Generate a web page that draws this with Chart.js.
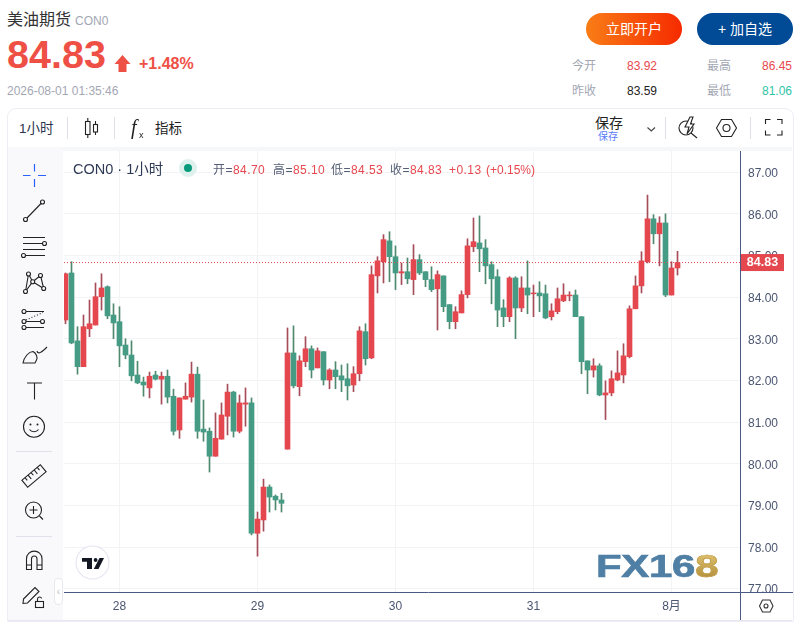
<!DOCTYPE html>
<html lang="zh">
<head>
<meta charset="utf-8">
<title>美油期货 CON0</title>
<script src="https://cdn.jsdelivr.net/npm/chart.js@4.4.3/dist/chart.umd.min.js"></script>
<style>
  html, body { margin: 0; padding: 0; width: 800px; height: 622px; overflow: hidden; background: #fff; }
  body { position: relative; font-family: "Liberation Sans", "Noto Sans CJK SC", sans-serif; color: #333; }
  .t { position: absolute; white-space: nowrap; line-height: 1; }
  .red { color: #e8484f; }
  .gray { color: #a3a7b3; }
  .legendItem { font-size: 12px; letter-spacing: .45px; color: #555e75; top: 164px; }
  .btn { position: absolute; top: 13px; width: 96px; height: 32px; border-radius: 16px; color: #fff; font-size: 14px; line-height: 32px; text-align: center; }
  #card { position: absolute; left: 7px; top: 108px; width: 785px; height: 512px; border: 1px solid #eceef3; border-radius: 9px 9px 0 0; box-sizing: content-box; }
  #gap { position: absolute; left: 8px; top: 147px; width: 784px; height: 4px; background: #f6f7f9; }
  #side { position: absolute; left: 8px; top: 147px; width: 55px; height: 473px; background: #f9f9fb; border-top-right-radius: 6px; }
  #chartBox { position: absolute; left: 64px; top: 151px; }
  svg { position: absolute; left: 0; top: 0; }
  #tab { position: absolute; left: 54px; top: 578px; width: 7px; height: 25px; background: #fff; border: 1px solid #e6e8ee; border-radius: 4px; color: #b6bac6; font-size: 10px; line-height: 25px; text-align: center; }
  #wm { position: absolute; left: 596px; top: 548px; font-weight: bold; font-size: 32px; line-height: 36px; letter-spacing: -.2px; color: #4f7fa4; -webkit-text-stroke: .7px #4f7fa4; transform: scaleX(1.31); transform-origin: left top; white-space: nowrap; }
  #wm b { background: linear-gradient(180deg, #e7cb7c, #a9852f); -webkit-background-clip: text; background-clip: text; color: transparent; -webkit-text-stroke: .7px #c4a04c; }
</style>
</head>
<body>
<div id="card"></div>
<div id="gap"></div>
<div id="side"></div>

<div class="t" style="left:7px;top:12px;font-size:16px;">美油期货</div>
<div class="t gray" style="left:75px;top:15px;font-size:12px;">CON0</div>
<div class="t" style="left:7px;top:35px;font-size:39.5px;font-weight:bold;color:#ef5046;">84.83</div>
<div class="t" style="left:139px;top:56px;font-size:16px;font-weight:bold;color:#ef5046;">+1.48%</div>
<div class="t gray" style="left:7px;top:85px;font-size:12px;">2026-08-01 01:35:46</div>

<div class="btn" style="left:586px;background:linear-gradient(90deg,#f97d16,#f62a00);">立即开户</div>
<div class="btn" style="left:697px;background:#004a96;">+ 加自选</div>

<div class="t gray" style="left:572px;top:60px;font-size:12px;">今开</div>
<div class="t red" style="left:627px;top:60px;font-size:12px;">83.92</div>
<div class="t gray" style="left:707px;top:60px;font-size:12px;">最高</div>
<div class="t red" style="left:762px;top:60px;font-size:12px;">86.45</div>
<div class="t gray" style="left:572px;top:85px;font-size:12px;">昨收</div>
<div class="t" style="left:627px;top:85px;font-size:12px;color:#222;">83.59</div>
<div class="t gray" style="left:707px;top:85px;font-size:12px;">最低</div>
<div class="t" style="left:762px;top:85px;font-size:12px;color:#2fc4a8;">81.06</div>

<div class="t" style="left:19px;top:122px;font-size:13.5px;color:#2a3350;">1小时</div>
<div class="t" style="left:155px;top:122px;font-size:13.5px;color:#222;">指标</div>
<div class="t" style="left:595px;top:116px;font-size:14px;color:#222;">保存</div>
<div class="t" style="left:598px;top:132px;font-size:10px;color:#5c7cfa;">保存</div>

<div id="chartBox"><canvas id="klineChart" width="729" height="469" style="display:block;width:729px;height:469px;"></canvas></div>

<div class="t" style="left:73px;top:162px;font-size:14.5px;color:#2f3a55;">CON0 · 1小时</div>
<div class="t legendItem" style="left:213px;">开=<span class="red">84.70</span></div>
<div class="t legendItem" style="left:273px;">高=<span class="red">85.10</span></div>
<div class="t legendItem" style="left:331px;">低=<span class="red">84.53</span></div>
<div class="t legendItem" style="left:390px;">收=<span class="red">84.83</span></div>
<div class="t legendItem" style="left:449px;color:#e8484f;">+0.13</div>
<div class="t legendItem" style="left:486px;color:#e8484f;letter-spacing:0;">(+0.15%)</div>

<div id="wm">FX16<b>8</b></div>

<svg width="800" height="622" viewBox="0 0 800 622" fill="none" stroke="#222" stroke-width="1.1">
  <!-- header arrow -->
  <path d="M122.5 55 L130.5 64 L126.5 64 L126.5 72 L118.5 72 L118.5 64 L114.5 64 Z" fill="#ef5046" stroke="none"/>
  <!-- market status dot -->
  <circle cx="188" cy="168" r="9" fill="#dff1ec" stroke="none"/><circle cx="188" cy="168" r="4" fill="#0b9a7c" stroke="none"/>
  <!-- toolbar -->
  <g stroke="#dfe1e8"><path d="M67.5 117V139M114.5 117V139M665.5 117V139M750.5 117V139"/></g>
  <rect x="85.5" y="121.5" width="4.5" height="13"/><path d="M87.8 118V121.5M87.8 134.5V138"/>
  <rect x="93.5" y="124.5" width="4" height="7.5"/><path d="M95.5 121V124.5M95.5 132V135"/>
  <text x="131" y="134" font-family="Liberation Serif" font-style="italic" font-size="20" fill="#222" stroke="none">f</text>
  <text x="139" y="138" font-family="Liberation Sans" font-size="9" fill="#222" stroke="none">x</text>
  <path d="M647.5 127.5L651.3 131L655 127.5" stroke="#444"/>
  <circle cx="686" cy="128" r="7"/><path d="M691 133L697 138"/><path d="M690 117L685 127H689L687 134L694 124H690.5L693 117Z" fill="#fff"/>
  <path d="M716.5 128L721.5 119.5H731.5L736.5 128L731.5 136.5H721.5Z"/><circle cx="726.5" cy="128" r="3.5"/>
  <path d="M765.5 124V119.5H770.5M777 119.5H782V124M782 130.5V135H777M770.5 135H765.5V130.5"/>

  <!-- sidebar -->
  <g stroke="#2962ff" stroke-width="1.2"><path d="M23 175.5H30.5M38 175.5H46M34.5 164V171.5M34.5 179V187"/></g>
  <circle cx="25.5" cy="219.5" r="2"/><circle cx="42.5" cy="202" r="2"/><path d="M27 218L41 203.5"/>
  <path d="M23 237.5H45M23 243.5H42.5M23 249.5H45M25.5 255.5H45"/><circle cx="44.5" cy="243.5" r="2"/><circle cx="23.5" cy="255.5" r="2"/>
  <path d="M28.5 274L25.5 291.5M28.5 274L32.7 281.7M32.7 281.7L40.5 275.5M40.5 275.5L43.7 288.5M32.7 281.7L43.7 288.5M32.7 281.7L25.5 291.5"/>
  <g fill="#f9f9fb"><circle cx="28.5" cy="274" r="2"/><circle cx="40.5" cy="275.5" r="2"/><circle cx="32.7" cy="281.7" r="2"/><circle cx="43.7" cy="288.5" r="2"/><circle cx="25.5" cy="291.5" r="2"/></g>
  <circle cx="24" cy="311.5" r="2"/><circle cx="24" cy="321.5" r="2"/><circle cx="42.5" cy="321.5" r="2"/><circle cx="24" cy="327.5" r="2"/>
  <path d="M26 311.5H44M26 321.5H40.5M26 327.5H44"/><path d="M26 320L43 312.5" stroke-dasharray="1 2"/>
  <path d="M23 363C24 357 29 351.5 33 351.5C36 353 38 357 36.5 360L35 363Z"/><path d="M37 351C38 355 42 352 47 347"/>
  <path d="M27 383H42M34.5 383V399.5"/>
  <circle cx="34" cy="426.7" r="10.5"/><circle cx="30.5" cy="424.5" r="1" fill="#222" stroke="none"/><circle cx="37.5" cy="424.5" r="1" fill="#222" stroke="none"/><path d="M29.5 429.5C31.5 432.5 36.5 432.5 38.5 429.5"/>
  <path d="M16 451.5H52M16 536.5H52" stroke="#e0e1ec"/>
  <g transform="rotate(-40 34 476)"><rect x="22" y="471.5" width="24" height="9"/><path d="M26 471.5V475M30 471.5V476.5M34 471.5V475M38 471.5V476.5M42 471.5V475"/></g>
  <circle cx="33.5" cy="510" r="8"/><path d="M29.5 510H37.5M33.5 506V514M39.5 516L43 519.5"/>
  <path d="M26.5 569.5V559C26.5 548.5 42 548.5 42 559V569.5H37V559C37 555 31.5 555 31.5 559V569.5ZM26.5 565H31.5M37 565H42"/>
  <path d="M23.5 599L35 587.5L39 591.5L27.5 603L23 603.5Z"/><rect x="35.5" y="601.5" width="8" height="6"/><path d="M37.5 601.5V599C37.5 596.5 41.5 596.5 41.5 598.5"/>

  <!-- tv logo -->
  <circle cx="92.5" cy="562.5" r="16.5" fill="#fff" stroke="#e4e5f0"/>
  <path d="M82 558H92V569H87V561.7H82Z" fill="#131722" stroke="none"/><circle cx="95.6" cy="560" r="1.9" fill="#131722" stroke="none"/><path d="M99.5 558H104L98.5 569H93.8Z" fill="#131722" stroke="none"/>

  <!-- bottom right settings -->
  <path d="M759.5 606L762.5 600H770L773 606L770 612H762.5Z" stroke="#333"/><circle cx="766" cy="606" r="2" stroke="#333"/>
  <path d="M8 620.5H792" stroke="#e8e6f2"/>
</svg>
<div id="tab">‹</div>

<script>
// hourly bars, red = close above open
const openPrices = [83.45,84.58,82.95,82.33,83.24,83.33,84.01,84.25,83.57,83.41,82.85,82.61,82.13,81.96,81.82,82.13,82.03,82.10,81.62,80.81,81.55,81.60,82.15,80.83,80.78,80.18,80.59,81.14,81.72,80.78,81.43,81.46,78.33,78.65,79.44,79.22,79.13,80.35,82.66,81.85,82.45,82.76,82.30,82.69,82.01,82.25,82.11,82.04,81.89,82.16,83.17,82.54,84.51,84.85,85.35,84.97,84.58,84.61,84.42,84.90,84.61,84.42,84.20,84.51,83.82,83.41,83.62,84.06,85.21,85.30,85.18,84.78,84.49,83.74,83.53,84.46,83.74,84.22,84.08,84.10,84.08,83.53,83.65,83.91,84.03,84.05,83.53,82.47,82.25,82.35,81.65,81.70,82.01,82.13,82.57,83.72,84.27,84.85,85.88,85.52,85.78,84.05,84.70];
const highPrices = [84.58,84.85,83.29,83.57,83.93,84.34,84.56,84.27,83.84,83.77,83.00,82.95,82.46,82.08,82.20,82.22,82.20,82.25,81.79,81.58,81.94,82.44,82.32,81.53,80.86,81.22,81.46,81.91,81.74,81.65,81.82,81.58,78.84,79.63,79.49,79.25,79.29,83.26,83.31,82.59,83.05,82.83,82.78,82.69,82.28,82.45,82.37,82.40,82.33,83.29,83.36,84.75,84.97,85.50,85.57,85.23,84.82,84.94,85.26,85.02,84.61,84.73,84.63,84.51,83.82,83.77,84.15,85.40,85.90,85.95,85.38,84.85,84.66,83.94,84.49,84.49,84.49,84.87,84.29,84.37,84.29,83.84,84.22,84.32,84.13,84.17,83.53,82.47,82.52,82.40,81.99,82.23,82.71,82.88,83.79,84.51,85.09,86.45,85.98,85.93,86.00,84.85,85.10];
const lowPrices = [83.36,82.88,82.15,82.33,83.05,83.33,83.69,83.48,83.00,82.33,82.52,81.99,81.92,81.62,81.58,82.01,81.43,81.46,80.69,80.61,81.55,81.48,80.61,80.54,79.80,80.18,80.59,80.69,80.64,80.74,80.90,78.29,77.78,78.38,78.84,78.89,78.84,80.35,81.82,81.63,82.33,82.06,82.30,81.89,81.80,81.80,81.73,81.53,81.73,81.99,82.37,82.52,84.10,84.34,84.37,84.18,84.30,84.32,84.06,84.54,84.25,84.13,83.21,83.65,83.24,83.24,83.62,83.98,85.09,84.61,84.32,83.84,83.29,83.29,83.41,83.00,83.65,83.60,83.53,83.65,83.48,83.45,83.60,83.89,83.91,83.53,82.16,81.68,82.08,81.63,81.06,81.63,81.99,81.94,82.54,83.72,84.10,84.82,85.28,84.75,84.01,84.05,84.53];
const closePrices = [84.56,82.90,82.33,83.29,83.36,84.01,84.22,83.55,83.38,82.83,82.61,82.11,81.94,81.89,82.10,82.03,82.10,81.60,80.78,81.58,81.62,82.15,80.78,80.76,80.18,80.61,81.17,81.72,80.78,81.46,81.46,78.33,78.67,79.44,79.20,79.13,79.05,82.66,81.87,82.47,82.76,82.25,82.71,82.01,82.25,82.09,82.01,81.87,82.16,83.19,82.52,84.54,84.87,85.38,84.97,84.58,84.61,84.44,84.90,84.58,84.42,84.18,84.54,83.77,83.41,83.65,84.06,85.23,85.33,85.16,84.75,84.44,83.69,83.53,84.46,83.74,84.22,84.05,84.10,84.03,83.50,83.67,83.96,84.05,84.05,83.53,82.45,82.25,82.35,81.65,81.70,82.04,82.18,82.59,83.72,84.27,84.87,85.88,85.52,85.78,84.05,84.70,84.83];
const dayTickIndex = [9, 32, 55, 78, 101];
const dayTickLabels = ['28', '29', '30', '31', '8月'];
const lastPrice = closePrices[closePrices.length - 1];

const UP_COLOR = '#e5474f', DOWN_COLOR = '#459b84';
const UP_WICK = '#a64d5a', DOWN_WICK = '#4f8a6e';
const AXIS_COLOR = '#4a5a82', TEXT_COLOR = '#4a5570', GRID_COLOR = '#f2f3f5';
const X_MIN = -0.25, X_MAX = 112.4167;

const isUp = i => closePrices[i] >= openPrices[i];
const candleBodies = openPrices.map((o, i) => ({ x: i, y: [o, closePrices[i]] }));
const candleWicks = lowPrices.map((l, i) => ({ x: i, y: [l, highPrices[i]] }));

// axis lines run past the plot area, and the last price tag sits on top of the scale
const priceAxisPlugin = {
  id: 'priceAxis',
  afterDraw(chart) {
    const { ctx, chartArea: area, scales, width, height } = chart;
    ctx.save();
    ctx.fillStyle = '#fff';
    ctx.fillRect(area.right, area.bottom, width - area.right, height - area.bottom);
    ctx.strokeStyle = AXIS_COLOR;
    ctx.lineWidth = 1;
    ctx.beginPath();
    ctx.moveTo(area.right + 0.5, 0);
    ctx.lineTo(area.right + 0.5, height);
    ctx.moveTo(area.left, area.bottom + 0.5);
    ctx.lineTo(width, area.bottom + 0.5);
    ctx.stroke();

    const y = scales.y.getPixelForValue(lastPrice);
    ctx.fillStyle = UP_COLOR;
    ctx.fillRect(area.right + 1, y - 8.5, 43, 17);
    ctx.fillStyle = '#fff';
    ctx.font = 'bold 12.5px "Liberation Sans", sans-serif';
    ctx.textAlign = 'center';
    ctx.textBaseline = 'middle';
    ctx.fillText(lastPrice.toFixed(2), area.right + 22.5, y + 0.5);
    ctx.restore();
  }
};

new Chart(document.getElementById('klineChart'), {
  type: 'bar',
  data: {
    datasets: [
      {
        type: 'line',
        data: [{ x: X_MIN, y: lastPrice }, { x: X_MAX, y: lastPrice }],
        borderColor: '#e5474f',
        borderWidth: 1,
        borderDash: [1, 2],
        pointRadius: 0,
        order: 0
      },
      {
        data: candleBodies,
        backgroundColor: candleBodies.map((_, i) => isUp(i) ? UP_COLOR : DOWN_COLOR),
        barThickness: 5,
        barPercentage: 1,
        grouped: false,
        order: 1
      },
      {
        data: candleWicks,
        backgroundColor: candleWicks.map((_, i) => isUp(i) ? UP_WICK : DOWN_WICK),
        barThickness: 1,
        barPercentage: 1,
        grouped: false,
        order: 2
      }
    ]
  },
  options: {
    responsive: false,
    animation: false,
    devicePixelRatio: 1,
    layout: { padding: 0 },
    plugins: { legend: { display: false }, tooltip: { enabled: false } },
    scales: {
      x: {
        type: 'linear',
        offset: false,
        min: X_MIN,
        max: X_MAX,
        afterBuildTicks: scale => { scale.ticks = dayTickIndex.map(value => ({ value })); },
        afterFit: scale => { scale.height = 28; scale.paddingLeft = 0; scale.paddingRight = 0; },
        grid: { color: GRID_COLOR, drawTicks: false, offset: false },
        border: { display: false },
        ticks: {
          autoSkip: false,
          maxRotation: 0,
          padding: 7,
          color: TEXT_COLOR,
          font: { size: 12, family: '"Liberation Sans", "Noto Sans CJK SC", sans-serif' },
          callback: value => dayTickLabels[dayTickIndex.indexOf(value)]
        }
      },
      y: {
        position: 'right',
        min: 76.92,
        max: 87.508,
        afterFit: scale => { scale.width = 53; scale.paddingTop = 0; scale.paddingBottom = 0; },
        grid: { color: GRID_COLOR, drawTicks: false },
        border: { display: false },
        ticks: {
          stepSize: 1,
          includeBounds: false,
          padding: 8,
          labelOffset: 1.5,
          color: TEXT_COLOR,
          font: { size: 12, family: '"Liberation Sans", sans-serif' },
          callback: value => value.toFixed(2)
        }
      }
    }
  },
  plugins: [priceAxisPlugin]
});
</script>
</body>
</html>
